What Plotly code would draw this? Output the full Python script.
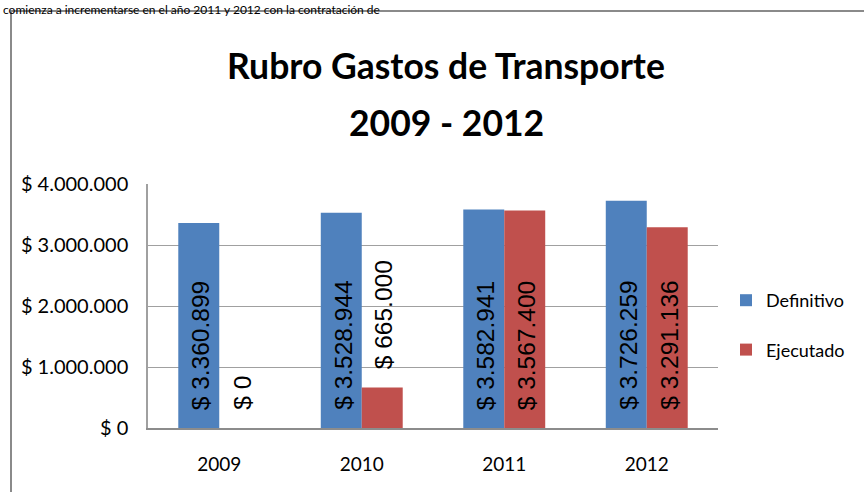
import plotly.graph_objects as go

years = ["2009", "2010", "2011", "2012"]
definitivo = [3360899, 3528944, 3582941, 3726259]
ejecutado = [0, 665000, 3567400, 3291136]
y_ticks = [0, 1000000, 2000000, 3000000, 4000000]
y_tick_labels = ["$ 0", "$ 1.000.000", "$ 2.000.000", "$ 3.000.000", "$ 4.000.000"]
title_lines = ["Rubro Gastos de Transporte", "2009 - 2012"]
top_text = "comienza a incrementarse en el año 2011 y 2012 con la contratación de"

BLUE = "#4F81BD"
RED = "#C0504D"
W, H = 864, 492
L, R, T, B = 148, 718, 184, 428

def px_x(px):
    return (px - L) / (R - L)

def px_y(py):
    return (B - py) / (B - T)

def fmt(v):
    return "$ " + f"{v:,}".replace(",", ".")

fig = go.Figure()
fig.add_trace(go.Bar(x=years, y=definitivo, name="Definitivo", marker_color=BLUE,
                     marker_line_width=0, legendgroup="a"))
fig.add_trace(go.Bar(x=years, y=ejecutado, name="Ejecutado", marker_color=RED,
                     marker_line_width=0, legendgroup="b"))

label_font = dict(family="Liberation Sans, Arial, sans-serif", size=24.5, color="black")
for i, yr in enumerate(years):
    for val, shift in ((definitivo[i], -20.5), (ejecutado[i], 20.5)):
        fits = val > 1500000
        # category axis: position by category index
        fig.add_annotation(x=i, y=0 if fits else val, xref="x", yref="y",
                           text=fmt(val), textangle=-90, showarrow=False,
                           xanchor="center", yanchor="bottom",
                           xshift=shift + 2, yshift=16,
                           font=label_font)

title_font = dict(family="Lato, sans-serif", size=35.5, color="black")
fig.add_annotation(x=0.5, y=px_y(65), xref="paper", yref="paper",
                   text="<b>" + title_lines[0] + "</b>", showarrow=False,
                   xanchor="center", yanchor="middle", xshift=13, font=title_font)
fig.add_annotation(x=0.5, y=px_y(122), xref="paper", yref="paper",
                   text="<b>" + title_lines[1] + "</b>", showarrow=False,
                   xanchor="center", yanchor="middle", xshift=13, font=title_font)
fig.add_annotation(x=px_x(1), y=px_y(0), xref="paper", yref="paper",
                   text=top_text, showarrow=False, xanchor="left", yanchor="top",
                   font=dict(family="Lato, sans-serif", size=12, color="black"))

fig.add_shape(type="rect", xref="paper", yref="paper",
              x0=px_x(11), x1=px_x(W + 20), y0=px_y(H + 20), y1=px_y(11),
              line=dict(color="#8a8a8a", width=2), fillcolor="rgba(0,0,0,0)",
              layer="below")

fig.update_layout(
    width=W, height=H, autosize=False,
    margin=dict(l=L, r=W - R, t=T, b=H - B, pad=0),
    paper_bgcolor="white", plot_bgcolor="white",
    barmode="group", bargap=0.425, bargroupgap=0,
    showlegend=True,
    legend=dict(x=px_x(726), y=px_y(282), xanchor="left", yanchor="top",
                font=dict(family="Lato, sans-serif", size=18, color="black"),
                traceorder="grouped", tracegroupgap=23, bgcolor="rgba(0,0,0,0)"),
    xaxis=dict(type="category", range=[-0.5, 3.5], showgrid=False, showline=True,
               linecolor="#8c8c8c", linewidth=1.5, ticks="", ticklabelstandoff=18,
               tickfont=dict(family="Lato, sans-serif", size=19, color="black")),
    yaxis=dict(range=[0, 4000000], tickvals=y_ticks, ticktext=y_tick_labels,
               showgrid=True, gridcolor="#a0a0a0", gridwidth=1,
               showline=True, linecolor="#a0a0a0", linewidth=1.5,
               ticks="", ticklabelstandoff=14, zeroline=False,
               tickfont=dict(family="Lato, sans-serif", size=20, color="black")),
)

post = ("document.body.style.margin='0px';"
        "document.body.style.overflow='hidden';")
fig.write_html("out.html", post_script=post,
               config={"responsive": False, "displayModeBar": False})
